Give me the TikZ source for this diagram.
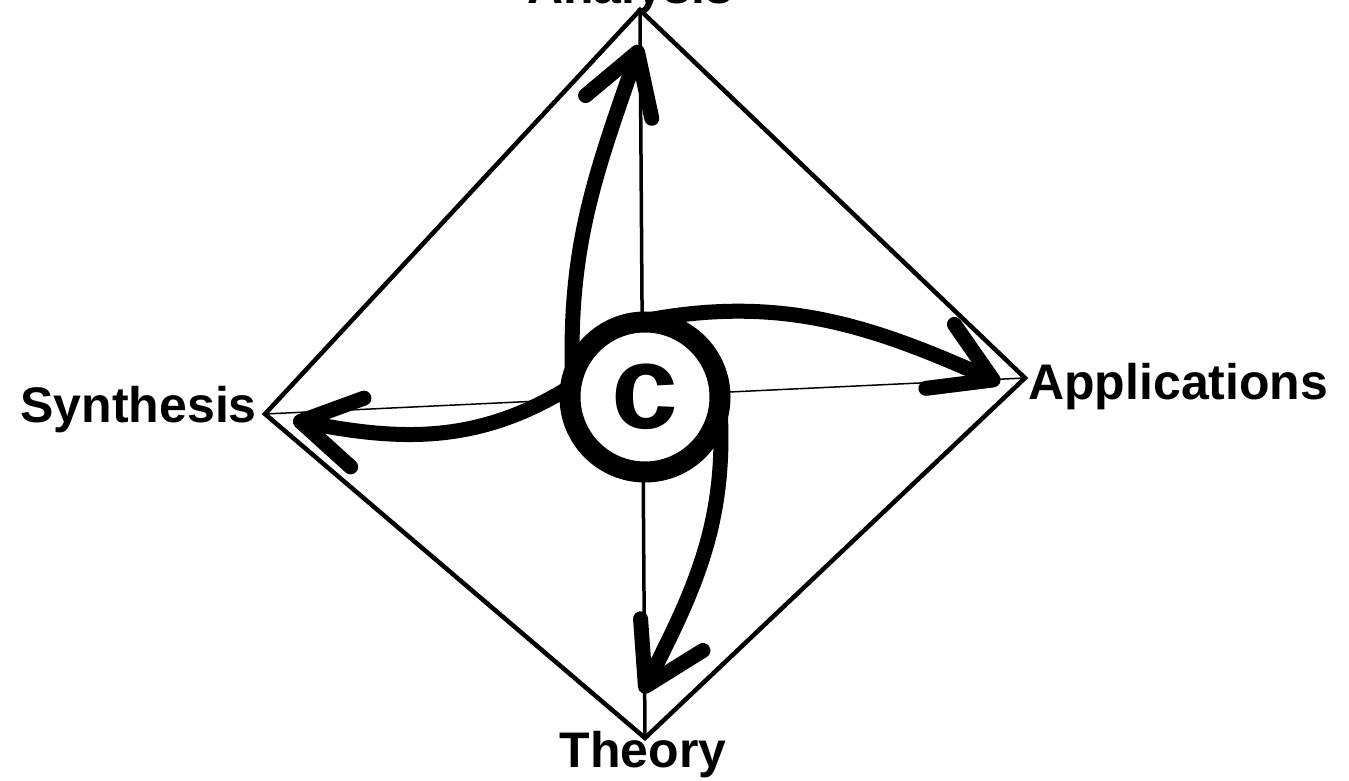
\documentclass[tikz,border=0pt]{standalone}
\usepackage{fontspec}
\setmainfont{Liberation Sans}
\usetikzlibrary{arrows.meta,positioning}

\tikzset{
  lbl/.style={font=\fontsize{50}{60}\selectfont\bfseries,inner sep=0pt},
  rim/.style={line width=4.5pt,line join=miter},
  axisline/.style={line width=3.5pt},
  swirl/.style={line width=15pt,line cap=round,
    -{Straight Barb[length=58pt,width=70pt,round]}},
}

\begin{document}
\begin{tikzpicture}[x=1pt,y=1pt]
\useasboundingbox (0,0) rectangle (1349,780);
% corners of the diamond
\coordinate (A) at (640,770);
\coordinate (P) at (1025,402);
\coordinate (T) at (645,42);
\coordinate (S) at (265,366);
\draw[rim] (A) -- (P) -- (T) -- (S) -- cycle;
\draw[axisline] (A) -- (T);
\draw[line width=1.5pt] (S) -- (P);
% labels
\node[lbl,anchor=base] (aLbl) at (630,776) {Analysis};
\node[lbl,anchor=base west] (pLbl) at (1028,380) {Applications};
\node[lbl,anchor=base] (tLbl) at (643,13) {Theory};
\node[lbl,anchor=base east] (sLbl) at (257,357) {Synthesis};
% hub
\node[circle,draw,fill=white,line width=21pt,minimum size=150pt,inner sep=0pt,
  outer sep=0pt,font=\fontsize{120}{120}\selectfont\bfseries] (c) at (645,383) {c};
% arrow tips
\coordinate (tA) at (640,735);
\coordinate (tP) at (1000,397);
\coordinate (tT) at (642,87);
\coordinate (tS) at (293,360);
\draw[swirl] (c.165) to[out=92,in=251] (tA);
\draw[swirl] (c.100) to[out=12,in=156] (tP);
\draw[swirl] (c.-5) to[out=-86,in=63] (tT);
\draw[swirl] (c.172) to[out=212,in=-11] (tS);
\end{tikzpicture}
\end{document}
